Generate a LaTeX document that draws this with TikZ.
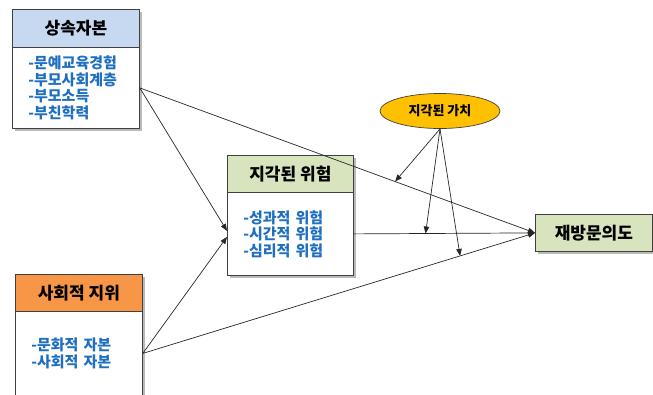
\documentclass[tikz,border=0pt]{standalone}
\usepackage{fontspec}
\setmainfont{Noto Sans CJK KR}
\usetikzlibrary{shapes.geometric,arrows.meta,shadows}
\definecolor{hdrblue}{HTML}{C6D9F1}
\definecolor{hdrorange}{HTML}{F79646}
\definecolor{hdrgreen}{HTML}{D7E4BD}
\definecolor{txtblue}{HTML}{1F6FC0}
\definecolor{ellgold}{HTML}{FFC000}
\definecolor{edge}{HTML}{404040}
\tikzset{
  boxbase/.style={draw=edge, line width=0.8pt, inner sep=0pt, anchor=north west,
    drop shadow={shadow xshift=2.5pt, shadow yshift=-2.5pt, fill=black!45, opacity=0.6}},
  hdr/.style={boxbase, font=\bfseries\fontsize{17}{20}\selectfont, text=black},
  bodybox/.style={boxbase, fill=white, font=\bfseries\fontsize{15}{16.5}\selectfont,
    text=txtblue, align=left, inner xsep=16pt, text width=#1},
  link/.style={draw=black!85, line width=0.7pt},
  arr/.style={link, -{Triangle[length=7pt,width=5.5pt]}},
}
\begin{document}
\begin{tikzpicture}[x=1pt,y=-1pt]
\useasboundingbox (0,0) rectangle (653,394);
% box 1
\node[hdr, fill=hdrblue, minimum width=127pt, minimum height=38pt] (h1) at (12,9) {상속자본};
\node[bodybox=95pt, minimum height=81pt] (b1) at (12,47) {-문예교육경험\\-부모사회계층\\-부모소득\\-부친학력};
% box 2
\node[hdr, fill=hdrorange, minimum width=127pt, minimum height=37pt] (h2) at (15,274) {사회적 지위};
\node[bodybox=95pt, minimum height=84pt] (b2) at (15,311) {-문화적 자본\\-사회적 자본};
% box 3
\node[hdr, fill=hdrgreen, minimum width=126pt, minimum height=37pt] (h3) at (227,155) {지각된 위험};
\node[bodybox=94pt, minimum height=83pt] (b3) at (227,192) {-성과적 위험\\-시간적 위험\\-심리적 위험};
% box 4
\node[hdr, fill=hdrgreen, minimum width=117pt, minimum height=37pt] (t) at (535,214) {재방문의도};
% ellipse
\node[ellipse, draw=edge, line width=0.7pt, fill=ellgold, minimum width=120pt, minimum height=35pt, inner sep=0pt,
  font=\bfseries\fontsize{13}{15}\selectfont] (v) at (440,111) {지각된 가치};
% connectors
\draw[arr] (b1.east) -- ([yshift=3pt]b3.west);
\draw[arr] (b2.east) -- ([yshift=-3pt]b3.west);
\draw[arr] (b1.east) -- coordinate[pos=0.646] (m1) (t.west);
\draw[arr] (b3.east) -- coordinate[pos=0.396] (m2) (t.west);
\draw[arr] (b2.east) -- coordinate[pos=0.809] (m3) (t.west);
\draw[arr] (v.south) -- (m1);
\draw[arr] (v.south) -- (m2);
\draw[arr] (v.south) -- (m3);
\end{tikzpicture}
\end{document}
